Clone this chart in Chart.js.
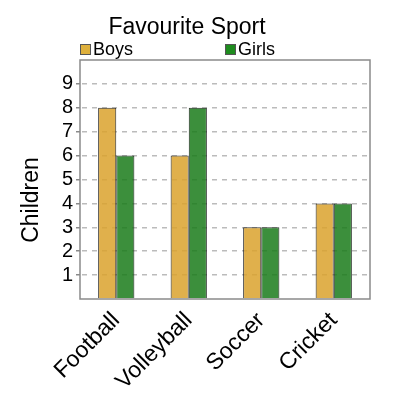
<!DOCTYPE html>
<html lang="en">
<head>
  <meta charset="UTF-8" />
  <title>Favourite Sport</title>
  <script src="https://cdn.jsdelivr.net/npm/chart.js"></script>
  <style>
    html, body { margin: 0; padding: 0; background: #fff; }
    #wrap { width: 400px; height: 400px; }
  </style>
</head>
<body>
  <div id="wrap"><canvas id="sport"></canvas></div>
  <script>
    // data
    const categories = ['Football', 'Volleyball', 'Soccer', 'Cricket'];
    const boys = [8, 6, 3, 4];
    const girls = [6, 8, 3, 4];
    const yTicks = [1, 2, 3, 4, 5, 6, 7, 8, 9];

    const FONT = '"Liberation Sans", Arial, sans-serif';
    const boysFill = 'rgba(219, 162, 45, 0.85)';
    const girlsFill = 'rgba(26, 123, 26, 0.85)';
    const swatch = ['rgb(222, 176, 60)', 'rgb(30, 140, 30)'];

    // title, legend, axis title and frame are drawn here
    const decor = {
      id: 'decor',
      afterDatasetsDraw(chart) {
        const { ctx, chartArea: a } = chart;
        ctx.save();
        ctx.strokeStyle = '#8a8a8a';
        ctx.lineWidth = 1.5;
        ctx.strokeRect(a.left, a.top, a.right - a.left, a.bottom - a.top);
        ctx.restore();
      },
      afterDraw(chart) {
        const { ctx, chartArea: a } = chart;
        ctx.save();
        ctx.fillStyle = '#000';
        ctx.font = '23px ' + FONT;
        ctx.textAlign = 'center';
        ctx.textBaseline = 'alphabetic';
        ctx.fillText('Favourite Sport', 187, 34);

        // legend, one column per dataset across the plot
        const colW = (a.right - a.left) / 2;
        ctx.font = '18px ' + FONT;
        ctx.textAlign = 'left';
        chart.data.datasets.forEach((ds, i) => {
          const x = a.left + i * colW;
          ctx.fillStyle = swatch[i];
          ctx.fillRect(x, 44, 11, 11);
          ctx.strokeStyle = '#555';
          ctx.lineWidth = 1;
          ctx.strokeRect(x + 0.5, 44.5, 10, 10);
          ctx.fillStyle = '#000';
          ctx.fillText(ds.label, x + 13, 55);
        });

        // y axis title
        ctx.translate(32, 200);
        ctx.rotate(-Math.PI / 2);
        ctx.font = '23px ' + FONT;
        ctx.textAlign = 'center';
        ctx.textBaseline = 'middle';
        ctx.fillText('Children', 0, 0);
        ctx.restore();
      }
    };

    const shown = v => yTicks.includes(v);

    new Chart(document.getElementById('sport'), {
      type: 'bar',
      data: {
        labels: categories,
        datasets: [
          { label: 'Boys', data: boys, backgroundColor: boysFill, borderColor: 'rgba(30,30,30,0.9)', borderWidth: 1 },
          { label: 'Girls', data: girls, backgroundColor: girlsFill, borderColor: 'rgba(20,30,20,0.9)', borderWidth: 1 }
        ]
      },
      options: {
        responsive: true,
        maintainAspectRatio: false,
        animation: false,
        layout: { padding: { top: 60, right: 30, left: 0, bottom: 0 } },
        datasets: { bar: { categoryPercentage: 0.5, barPercentage: 1 } },
        plugins: {
          legend: { display: false },
          title: { display: false },
          tooltip: { enabled: false }
        },
        scales: {
          x: {
            afterFit: s => { s.height = 101; },
            border: { display: false },
            grid: { display: false, drawTicks: false },
            ticks: {
              color: '#000',
              font: { family: FONT, size: 23 },
              maxRotation: 45,
              minRotation: 45,
              padding: 8
            }
          },
          y: {
            min: 0,
            max: 10,
            afterFit: s => { s.width = 80; },
            border: { display: false, dash: [5, 5], dashOffset: 8 },
            grid: {
              color: c => shown(c.tick.value) ? '#bbbbbb' : 'rgba(0,0,0,0)',
              tickColor: c => shown(c.tick.value) ? '#8a8a8a' : 'rgba(0,0,0,0)',
              lineWidth: 1.5,
              tickBorderDash: [],
              tickLength: 4
            },
            ticks: {
              stepSize: 1,
              autoSkip: false,
              color: '#000',
              padding: 3,
              font: { family: FONT, size: 20 },
              callback: v => shown(v) ? String(v) : ''
            }
          }
        }
      },
      plugins: [decor]
    });
  </script>
</body>
</html>
